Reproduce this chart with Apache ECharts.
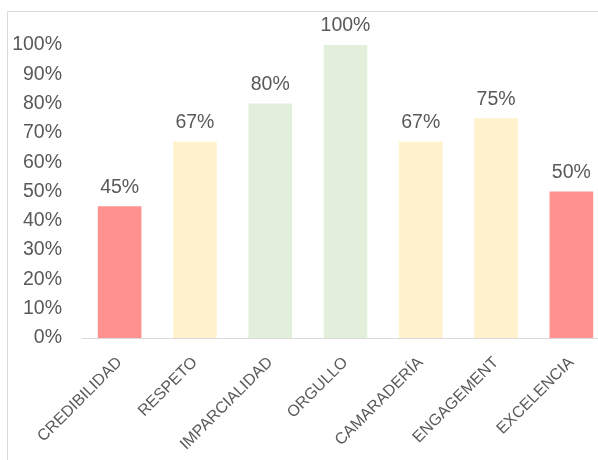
<!DOCTYPE html>
<html><head><meta charset="utf-8">
<script src="https://cdn.jsdelivr.net/npm/echarts@6/dist/echarts.min.js"></script>
<style>html,body{margin:0;padding:0;background:#fff;overflow:hidden;width:598px;height:460px}#c{width:620px;height:460px}</style>
</head><body><div id="c"></div>
<script>
const categories = ['CREDIBILIDAD','RESPETO','IMPARCIALIDAD','ORGULLO','CAMARADERÍA','ENGAGEMENT','EXCELENCIA'];
const values = [45, 67, 80, 100, 67, 75, 50];
const barColors = ['#FF9191','#FFF2CC','#E2EFDA','#E2EFDA','#FFF2CC','#FFF2CC','#FF9191'];
const yTicks = [0,10,20,30,40,50,60,70,80,90,100];

const chart = echarts.init(document.getElementById('c'), null, {renderer:'canvas'});
const font = '"Liberation Sans", Arial, sans-serif';
chart.setOption({
  animation:false,
  backgroundColor:'#fff',
  graphic:[{type:'rect', shape:{x:7.5,y:11.5,width:620,height:480}, style:{fill:'none', stroke:'#D9D9D9', lineWidth:1}}],
  grid:{left:82, width:527, top:45, height:293, containLabel:false},
  xAxis:{type:'category', data:categories,
    axisLine:{lineStyle:{color:'#D9D9D9', width:1}}, axisTick:{show:false},
    axisLabel:{rotate:45, interval:0, margin:22, color:'#595959', fontFamily:font, fontSize:16}},
  yAxis:{type:'value', min:0, max:100, interval:10,
    axisLine:{show:false}, axisTick:{show:false}, splitLine:{show:false},
    axisLabel:{margin:20, color:'#595959', fontFamily:font, fontSize:19.5, formatter:v=>v+'%'}},
  series:[{type:'bar', barWidth:'58%',
    data: values.map((v,i)=>({value:v, itemStyle:{color:barColors[i]}})),
    label:{show:true, position:'top', distance:9, color:'#595959', fontFamily:font, fontSize:19.5, formatter:p=>p.value+'%'}}]
});
</script></body></html>
